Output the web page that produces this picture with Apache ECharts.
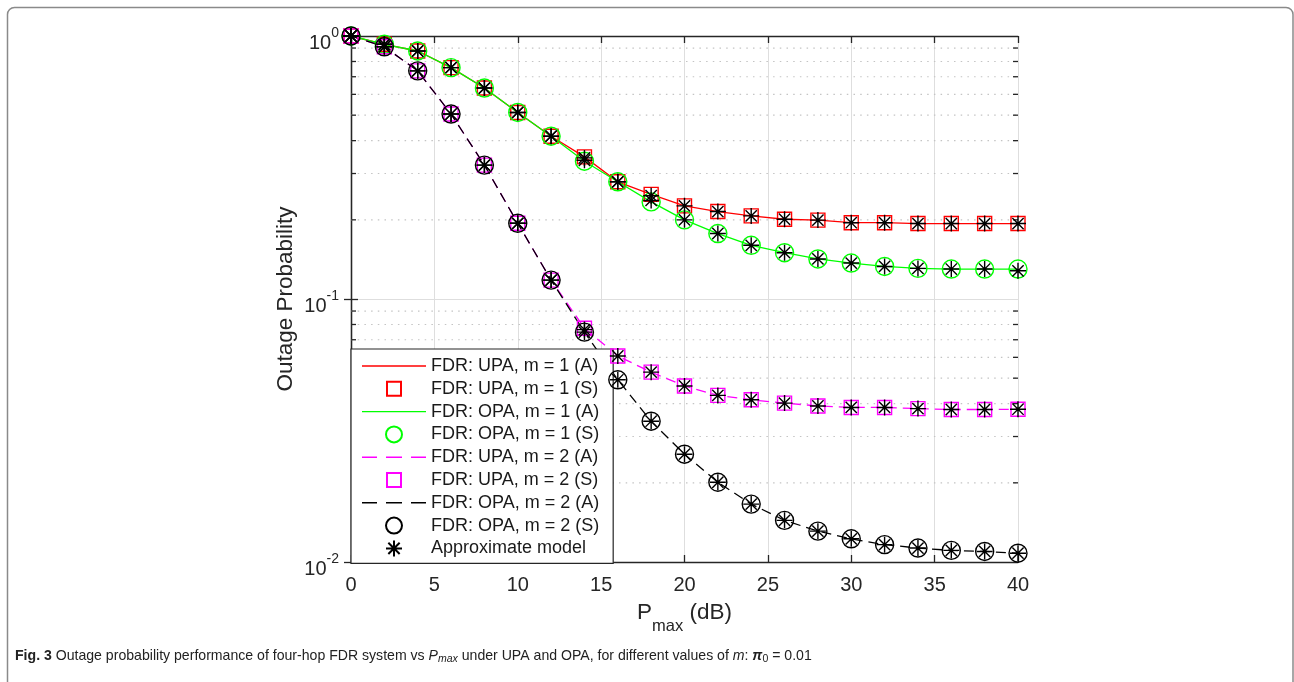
<!DOCTYPE html>
<html>
<head>
<meta charset="utf-8">
<script src="https://cdn.jsdelivr.net/npm/echarts@6/dist/echarts.min.js"></script>
<style>
html,body{margin:0;padding:0;background:#fff;}
#chart{width:1294px;height:682px;}
</style>
</head>
<body>
<div id="chart"></div>
<script>
// ---- data ----
const pmax = [0, 2, 4, 6, 8, 10, 12, 14, 16, 18, 20, 22, 24, 26, 28, 30, 32, 34, 36, 38, 40];
const upaM1 = [1.0, 0.93, 0.877, 0.758, 0.634, 0.512, 0.416, 0.347, 0.279, 0.25, 0.226, 0.215, 0.207, 0.201, 0.1995, 0.195, 0.195, 0.1936, 0.1936, 0.1936, 0.1936];
const opaM1 = [1.0, 0.93, 0.877, 0.758, 0.634, 0.512, 0.416, 0.334, 0.279, 0.234, 0.2, 0.1774, 0.160, 0.150, 0.142, 0.137, 0.133, 0.1307, 0.130, 0.130, 0.130];
const upaM2 = [1.0, 0.91, 0.737, 0.505, 0.323, 0.194, 0.118, 0.0774, 0.0607, 0.0527, 0.0467, 0.043, 0.0414, 0.0402, 0.0392, 0.0387, 0.0387, 0.0383, 0.038, 0.038, 0.0381];
const opaM2 = [1.0, 0.91, 0.737, 0.505, 0.323, 0.194, 0.118, 0.0748, 0.0493, 0.0343, 0.0257, 0.0201, 0.0166, 0.0144, 0.0131, 0.01225, 0.01164, 0.0113, 0.01107, 0.01097, 0.0108];
const approxUpaM1 = [1.0, 0.93, 0.877, 0.758, 0.634, 0.512, 0.416, 0.344, 0.279, 0.247, 0.226, 0.215, 0.207, 0.201, 0.1995, 0.195, 0.195, 0.1936, 0.1936, 0.1936, 0.1936];
const approxOpaM1 = [1.0, 0.93, 0.877, 0.758, 0.634, 0.512, 0.416, 0.337, 0.279, 0.237, 0.2, 0.1774, 0.160, 0.150, 0.142, 0.137, 0.133, 0.1307, 0.130, 0.130, 0.128];
const approxUpaM2 = [1.0, 0.91, 0.737, 0.505, 0.323, 0.194, 0.118, 0.0765, 0.0607, 0.0527, 0.0467, 0.043, 0.0414, 0.0402, 0.0392, 0.0387, 0.0387, 0.0383, 0.038, 0.038, 0.0381];
const approxOpaM2 = [1.0, 0.91, 0.737, 0.505, 0.323, 0.194, 0.118, 0.0748, 0.0493, 0.0343, 0.0257, 0.0201, 0.0166, 0.0144, 0.0131, 0.01225, 0.01164, 0.0113, 0.01107, 0.01097, 0.0108];
const xTicks = [0, 5, 10, 15, 20, 25, 30, 35, 40];
const yMinorTicks = [0.02, 0.03, 0.04, 0.05, 0.06, 0.07, 0.08, 0.09, 0.2, 0.3, 0.4, 0.5, 0.6, 0.7, 0.8, 0.9];
const legendNames = ['FDR: UPA, m = 1 (A)', 'FDR: UPA, m = 1 (S)', 'FDR: OPA, m = 1 (A)', 'FDR: OPA, m = 1 (S)',
  'FDR: UPA, m = 2 (A)', 'FDR: UPA, m = 2 (S)', 'FDR: OPA, m = 2 (A)', 'FDR: OPA, m = 2 (S)', 'Approximate model'];

const FONT = '"Liberation Sans", Arial, Helvetica, sans-serif';
const AX = '#262626';
const STAR = 'path://M0,-10L0,10M-10,0L10,0M-7.07,-7.07L7.07,7.07M-7.07,7.07L7.07,-7.07';
const ICON_SOLID = 'path://M0,0L64,0L64,1.4L0,1.4Z';
const ICON_DASH = 'path://M0,0L15,0L15,1.4L0,1.4ZM24,0L40,0L40,1.4L24,1.4ZM49,0L64,0L64,1.4L49,1.4Z';
const ICON_SQUARE = 'path://M-1,-1L-1,-1M0,0L14,0L14,14L0,14ZM15,15L15,15';
const pairs = arr => pmax.map((x, i) => [x, arr[i]]);

function lineSeries(name, arr, color, dashed) {
  return {
    name, type: 'line', data: pairs(arr), symbol: 'none', showSymbol: false, z: 3,
    lineStyle: { color, width: 1.3, type: dashed ? [10, 6] : 'solid' },
    itemStyle: { color }
  };
}
function markSeries(name, arr, color, symbol, size) {
  return {
    name, type: 'scatter', data: pairs(arr), symbol, symbolSize: size, z: 4,
    itemStyle: { color: 'rgba(0,0,0,0)', borderColor: color, borderWidth: 1.4, opacity: 1 }
  };
}

const chart = echarts.init(document.getElementById('chart'), null, { renderer: 'canvas' });

const option = {
  animation: false,
  backgroundColor: '#fff',
  textStyle: { fontFamily: FONT },
  grid: { left: 351, top: 36, width: 667, height: 526, containLabel: false },
  xAxis: [{
    type: 'value', min: 0, max: 40, interval: 5, position: 'bottom',
    axisLine: { show: true, lineStyle: { color: AX, width: 1.3 } },
    axisTick: { show: true, inside: true, length: 7, lineStyle: { color: AX, width: 1.3 } },
    axisLabel: { color: AX, fontSize: 20, margin: 13, fontFamily: FONT },
    splitLine: { show: true, lineStyle: { color: '#dedede', width: 1 } },
    name: '{a|P}{s|max}{a| (dB)}', nameLocation: 'middle', nameGap: 28,
    nameTextStyle: {
      fontFamily: FONT,
      rich: {
        a: { fontSize: 22.5, color: AX, fontFamily: FONT },
        s: { fontSize: 16.5, color: AX, fontFamily: FONT, padding: [28, 0, 0, 0] }
      }
    }
  }, {
    type: 'value', min: 0, max: 40, interval: 5, position: 'top',
    axisLine: { show: true, lineStyle: { color: AX, width: 1.3 } },
    axisTick: { show: true, inside: true, length: 7, lineStyle: { color: AX, width: 1.3 } },
    axisLabel: { show: false }, splitLine: { show: false }
  }],
  yAxis: [{
    type: 'log', logBase: 10, min: 0.01, max: 1, position: 'left',
    axisLine: { show: true, lineStyle: { color: AX, width: 1.3 } },
    axisTick: { show: true, inside: true, length: 7, lineStyle: { color: AX, width: 1.3 } },
    axisLabel: {
      margin: 12,
      formatter: v => '{b|10}{s|' + Math.round(Math.log10(v)) + '}',
      rich: {
        b: { fontSize: 20, color: AX, fontFamily: FONT, padding: [14, 0, 0, 0] },
        s: { fontSize: 14, color: AX, fontFamily: FONT, padding: [0, 0, 6, 0] }
      }
    },
    splitLine: { show: true, lineStyle: { color: '#dedede', width: 1 } },
    name: 'Outage Probability', nameLocation: 'middle', nameGap: 54, nameRotate: 90,
    nameMoveOverlap: false,
    nameTextStyle: { fontSize: 22.5, color: AX, fontFamily: FONT }
  }, {
    type: 'log', logBase: 10, min: 0.01, max: 1, position: 'right',
    axisLine: { show: true, lineStyle: { color: AX, width: 1.3 } },
    axisTick: { show: true, inside: true, length: 7, lineStyle: { color: AX, width: 1.3 } },
    axisLabel: { show: false }, splitLine: { show: false }
  }],
  legend: {
    data: [
      { name: legendNames[0], icon: ICON_SOLID },
      { name: legendNames[1], icon: ICON_SQUARE },
      { name: legendNames[2], icon: ICON_SOLID },
      { name: legendNames[3], icon: 'circle' },
      { name: legendNames[4], icon: ICON_DASH },
      { name: legendNames[5], icon: ICON_SQUARE },
      { name: legendNames[6], icon: ICON_DASH },
      { name: legendNames[7], icon: 'circle' },
      { name: legendNames[8], icon: STAR }
    ],
    orient: 'vertical', left: 351, top: 349,
    padding: [8, 14, 6, 11], itemGap: 4.8, itemWidth: 64, itemHeight: 16,
    symbolKeepAspect: true,
    backgroundColor: '#fff', borderColor: AX, borderWidth: 1.2, borderRadius: 0,
    selectedMode: false,
    textStyle: { fontSize: 18, color: '#1a1a1a', fontFamily: FONT, padding: [0, 0, 0, 0] }
  },
  graphic: [{
    type: 'rect', silent: true, z: 100,
    shape: { x: 7.5, y: 7.5, width: 1285.5, height: 720, r: 7 },
    style: { fill: 'none', stroke: '#8a8a8a', lineWidth: 1.5 }
  }, {
    type: 'text', left: 15, top: 649, z: 100,
    style: {
      text: '{b|Fig. 3} Outage probability performance of four-hop FDR system vs {i|P}{isub|max} under UPA and OPA, for different values of {i|m}: {pi|π}{sub|0} = 0.01',
      fill: '#222', fontFamily: FONT, fontSize: 14.1,
      rich: {
        b: { fontWeight: 'bold', fontSize: 14.1, fontFamily: FONT, fill: '#222' },
        i: { fontStyle: 'italic', fontSize: 14.1, fontFamily: FONT, fill: '#222' },
        isub: { fontStyle: 'italic', fontSize: 10.5, fontFamily: FONT, fill: '#222', padding: [7, 0, 0, 0] },
        pi: { fontWeight: 'bold', fontStyle: 'italic', fontSize: 14.1, fontFamily: FONT, fill: '#222' },
        sub: { fontSize: 10.5, fontFamily: FONT, fill: '#222', padding: [7, 0, 0, 0] }
      }
    }
  }],
  series: [
    {
      name: 'minor', type: 'custom', silent: true, z: 1,
      data: yMinorTicks.map(v => [0, v]),
      encode: { x: 0, y: 1 },
      renderItem: function (params, api) {
        const v = api.value(1);
        const p0 = api.coord([0, v]);
        const p1 = api.coord([40, v]);
        return {
          type: 'group',
          children: [
            { type: 'line', shape: { x1: p0[0], y1: p0[1], x2: p1[0], y2: p1[1] },
              style: { stroke: '#c4c4c4', lineWidth: 1.2, lineDash: [1.5, 5.2] } },
            { type: 'line', shape: { x1: p0[0], y1: p0[1], x2: p0[0] + 5, y2: p0[1] },
              style: { stroke: AX, lineWidth: 1.3 } },
            { type: 'line', shape: { x1: p1[0], y1: p1[1], x2: p1[0] - 5, y2: p1[1] },
              style: { stroke: AX, lineWidth: 1.3 } }
          ]
        };
      }
    },
    lineSeries(legendNames[0], upaM1, '#ff0000', false),
    markSeries(legendNames[1], upaM1, '#ff0000', 'rect', 14),
    lineSeries(legendNames[2], opaM1, '#00ff00', false),
    markSeries(legendNames[3], opaM1, '#00ff00', 'circle', 18),
    lineSeries(legendNames[4], upaM2, '#ff00ff', true),
    markSeries(legendNames[5], upaM2, '#ff00ff', 'rect', 14),
    lineSeries(legendNames[6], opaM2, '#000000', true),
    markSeries(legendNames[7], opaM2, '#000000', 'circle', 18),
    markSeries(legendNames[8], approxUpaM1, '#000000', STAR, 16),
    markSeries(legendNames[8], approxOpaM1, '#000000', STAR, 16),
    markSeries(legendNames[8], approxUpaM2, '#000000', STAR, 16),
    markSeries(legendNames[8], approxOpaM2, '#000000', STAR, 16)
  ]
};
chart.setOption(option);
</script>
</body>
</html>
